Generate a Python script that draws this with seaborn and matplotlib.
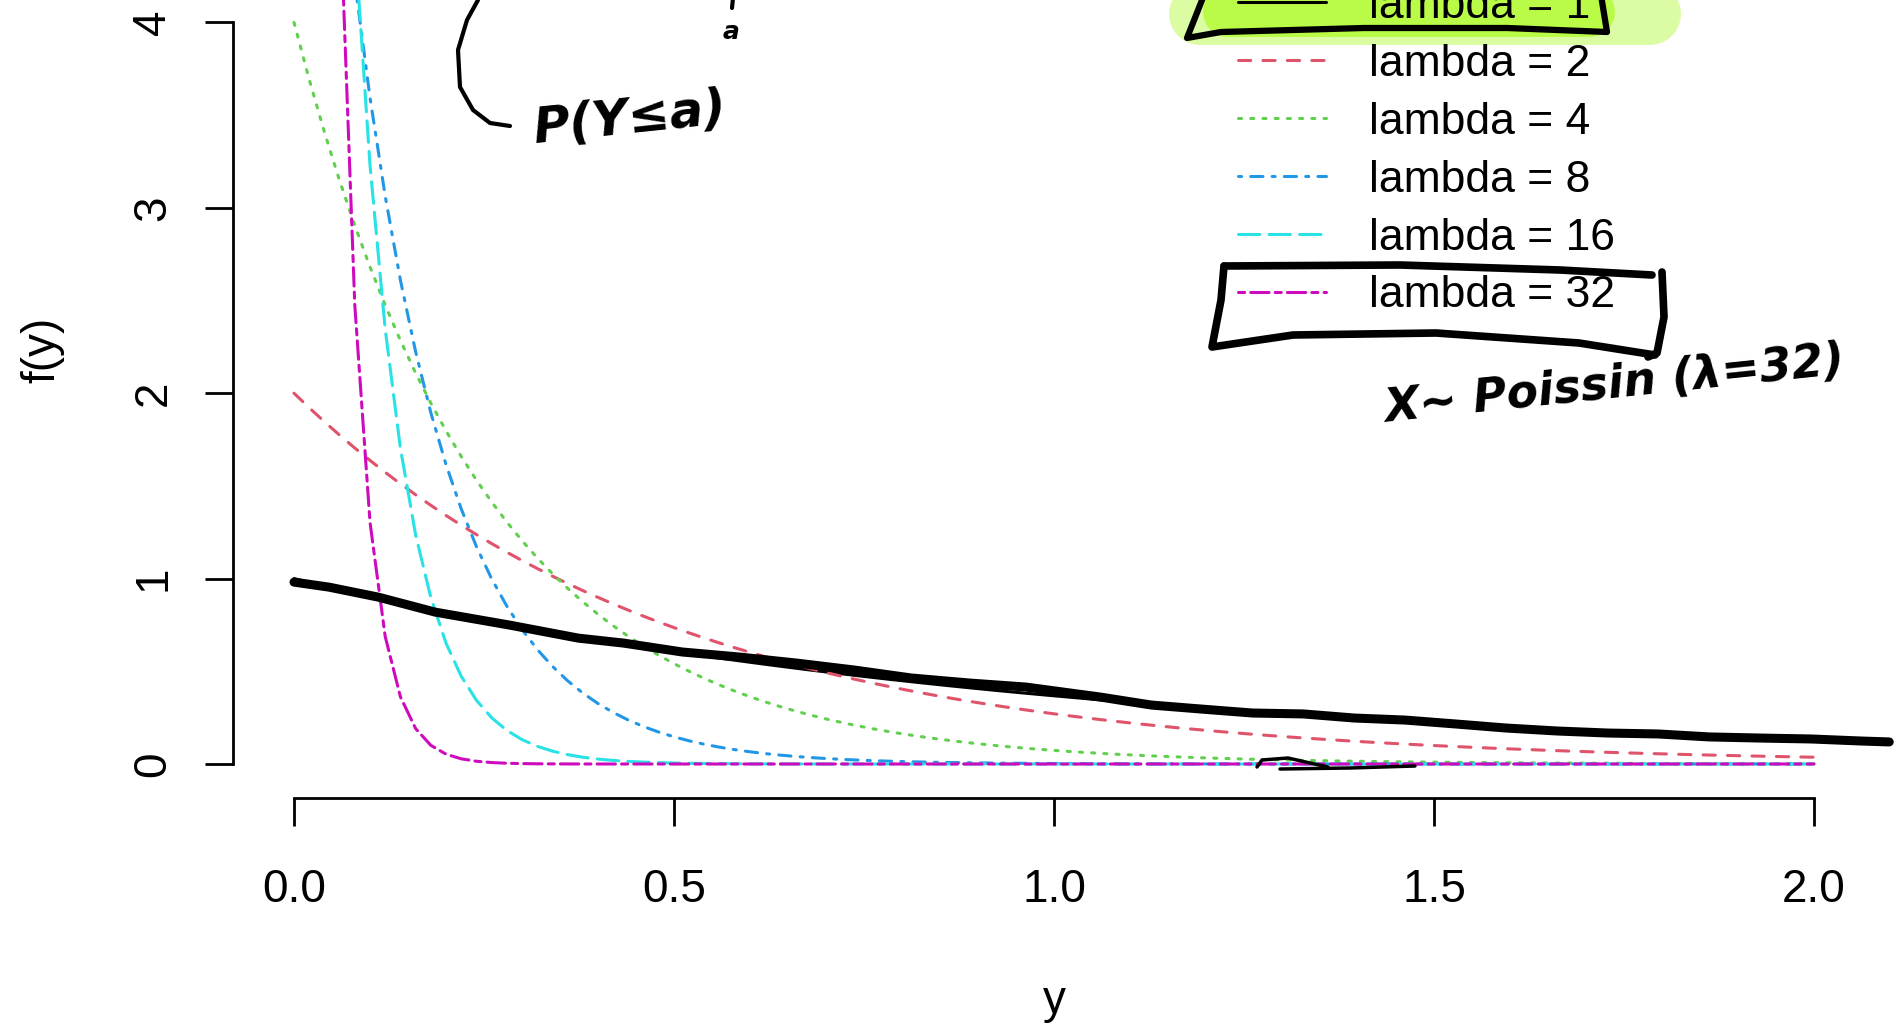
import numpy as np
import pandas as pd
import matplotlib
matplotlib.use("Agg")
import matplotlib.pyplot as plt
import matplotlib.transforms as mtrans
from matplotlib.lines import Line2D
import seaborn as sns

# ---- Datos ----
LAMBDAS = [1, 2, 4, 8, 16, 32]
ETIQUETAS = [f"lambda = {l}" for l in LAMBDAS]
COLORES = ["#000000", "#DF536B", "#61D04F", "#2297E6", "#28E2E5", "#CD0BBC"]
GUIONES = ["", (4, 4), (1, 3), (1, 3, 4, 3), (7, 3), (2, 2, 6, 2)]
Y_GRID = np.linspace(0, 2, 101)          # como curve(..., n = 101)
X_TICKS = [0.0, 0.5, 1.0, 1.5, 2.0]
X_TICKLABELS = ["0.0", "0.5", "1.0", "1.5", "2.0"]
Y_TICKS = [0, 1, 2, 3, 4]

# trazo a mano encima de lambda = 1
TRAZO_X = [0.000, 0.046, 0.111, 0.186, 0.284, 0.374, 0.434, 0.511, 0.586, 0.662,
           0.737, 0.812, 0.888, 0.963, 1.061, 1.128, 1.195, 1.261, 1.328, 1.395,
           1.462, 1.528, 1.595, 1.662, 1.729, 1.795, 1.862, 1.929, 1.996, 2.062, 2.099]
TRAZO_Y = [0.981, 0.954, 0.900, 0.819, 0.749, 0.679, 0.652, 0.604, 0.577, 0.544,
           0.507, 0.464, 0.437, 0.415, 0.361, 0.318, 0.296, 0.275, 0.270, 0.248,
           0.237, 0.216, 0.194, 0.178, 0.167, 0.162, 0.146, 0.140, 0.135, 0.124, 0.119]

# anotaciones a mano (pixeles de la imagen, origen arriba a la izquierda)
CAJA1 = [[(1204, -5), (1187, 38), (1221, 32), (1364, 28), (1507, 28), (1607, 32), (1601, -5)]]
CAJA2 = [[(1224, 266), (1400, 265), (1560, 270), (1652, 275)],
         [(1224, 266), (1221, 300), (1212, 347), (1293, 335), (1436, 333), (1579, 343), (1655, 355)],
         [(1662, 272), (1664, 317), (1657, 353), (1648, 357)]]
LLAVE = [[(478, 0), (467, 20), (458, 50), (460, 87), (473, 110), (490, 123), (510, 126)],
         [(733, -2), (732, 8)]]
GARABATO = [[(1257, 767), (1262, 760), (1288, 758), (1310, 763), (1328, 767)],
            [(1280, 769), (1350, 768), (1415, 766)]]

W, H = 1896, 1024

# ---- Estilo ----
sns.set_style("ticks", rc={"text.color": "black", "xtick.color": "black",
                           "ytick.color": "black", "axes.labelcolor": "black",
                           "axes.edgecolor": "black"})
plt.rcParams["font.family"] = ["Liberation Sans", "DejaVu Sans"]

fig = plt.figure(figsize=(W / 100, H / 100), dpi=100)
ax = fig.add_axes([0, 0, 1, 1])
ax.patch.set_visible(False)
px = mtrans.Affine2D().scale(1 / W, -1 / H).translate(0, 1) + fig.transFigure

# escala: x=0 -> 294 px, x=2 -> 1814 px ; y=0 -> 764 px, y=4 -> 22 px
ax.set_xlim(-294 / 760, (W - 294) / 760)
ax.set_ylim(-(H - 764) / 185.4, 764 / 185.4)

# ---- Resaltador ----
ax.plot([1200, 1650], [14, 14], transform=px, color="#dcfca3", lw=62 * 0.72,
        solid_capstyle="round", zorder=1, clip_on=False)
ax.plot([1228, 1590], [12, 12], transform=px, color="#b9fb47", lw=50 * 0.72,
        solid_capstyle="round", zorder=1, clip_on=False)

# ---- Densidades exponenciales ----
df = pd.DataFrame({
    "y": np.tile(Y_GRID, len(LAMBDAS)),
    "f": np.concatenate([l * np.exp(-l * Y_GRID) for l in LAMBDAS]),
    "serie": np.repeat(ETIQUETAS, len(Y_GRID)),
})
sns.lineplot(data=df, x="y", y="f", hue="serie", style="serie",
             palette=dict(zip(ETIQUETAS, COLORES)),
             dashes=dict(zip(ETIQUETAS, GUIONES)),
             linewidth=2.2, estimator=None, legend=False, ax=ax,
             dash_capstyle="round", solid_capstyle="round", zorder=2)

# ---- Ejes estilo R ----
sns.despine(ax=ax)
ax.spines["left"].set_position(("data", -0.0803))
ax.spines["left"].set_bounds(0, 4)
ax.spines["bottom"].set_position(("data", -0.182))
ax.spines["bottom"].set_bounds(0, 2)
for s in ["left", "bottom"]:
    ax.spines[s].set_linewidth(2.0)
    ax.spines[s].set_color("black")
ax.set_xticks(X_TICKS, X_TICKLABELS)
ax.set_yticks(Y_TICKS, [str(t) for t in Y_TICKS])
ax.tick_params(axis="both", direction="out", length=20.5, width=2.0,
               labelsize=33, colors="black", bottom=True, left=True)
ax.tick_params(axis="x", pad=30)
ax.tick_params(axis="y", pad=21, labelrotation=90)
for lbl in ax.get_yticklabels():
    lbl.set_va("center")
ax.set_xlabel("")
ax.set_ylabel("")
fig.text(42 / W, 1 - 350 / H, "f(y)", rotation=90, ha="center", va="center",
         fontsize=33, color="black")
fig.text(1054 / W, 1 - 1001 / H, "y", ha="center", va="center", fontsize=33,
         color="black")

# ---- Leyenda ----
handles = [Line2D([], [], color=c, lw=2.2, linestyle="-" if d == "" else (0, d),
                  dash_capstyle="round") for c, d in zip(COLORES, GUIONES)]
leg = ax.legend(handles, ETIQUETAS, loc="upper left",
                bbox_to_anchor=(1238 / W, 1 + 14 / H), bbox_transform=fig.transFigure,
                frameon=False, fontsize=32, handlelength=1.98, handletextpad=0.97,
                labelspacing=0.38, borderpad=0, borderaxespad=0, labelcolor="black")
leg.set_zorder(5)

# ---- Anotaciones a mano ----
ax.plot(TRAZO_X, TRAZO_Y, color="black", lw=6.5, solid_capstyle="round",
        solid_joinstyle="round", zorder=6, clip_on=False)
for grupo, ancho in [(CAJA1, 4.5), (CAJA2, 5.5), (LLAVE, 3.0), (GARABATO, 2.5)]:
    for trazo in grupo:
        xs, ys = zip(*trazo)
        ax.plot(xs, ys, transform=px, color="black", lw=ancho, solid_capstyle="round",
                solid_joinstyle="round", zorder=6, clip_on=False)

mano = dict(family="DejaVu Sans", style="italic", weight="bold", color="black", zorder=7)
ax.text(630, 118, "P(Y≤a)", transform=px, fontsize=36, rotation=6,
        ha="center", va="center", **mano)
ax.text(731, 32, "a", transform=px, fontsize=18, ha="center", va="center", **mano)
ax.text(1615, 385, "X~ Poissin (λ=32)", transform=px, fontsize=33, rotation=6,
        ha="center", va="center", **mano)

fig.savefig("out.png", dpi=100)
